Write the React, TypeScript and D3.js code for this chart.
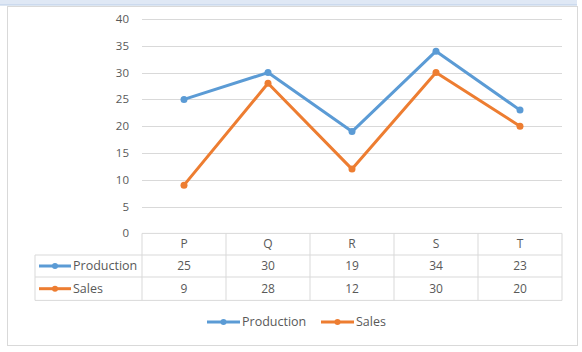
import React from "react";
import * as d3 from "d3";

const categories = ["P", "Q", "R", "S", "T"];
const production = [25, 30, 19, 34, 23];
const sales = [9, 28, 12, 30, 20];
const yTicks = [0, 5, 10, 15, 20, 25, 30, 35, 40];
const seriesNames = ["Production", "Sales"];
const seriesColors = ["#5b9bd5", "#ed7d31"];

const W = 582;
const H = 352;
const FONT = "'Open Sans', 'Noto Sans', sans-serif";
const TEXT = "#595959";
const GRID = "#d9d9d9";

export default function App() {
  const plotL = 142;
  const plotR = 562;
  const x = d3.scaleBand<string>().domain(categories).range([plotL, plotR]);
  const y = d3.scaleLinear().domain([0, 40]).range([233.4, 19]);
  const line = d3
    .line<number>()
    .x((_, i) => (x(categories[i]) as number) + x.bandwidth() / 2)
    .y((d) => y(d));
  const series = [production, sales];

  const tableTop = 233.4;
  const rowH = [21.6, 22, 23.4];
  const rowY = [tableTop, tableTop + rowH[0], tableTop + rowH[0] + rowH[1]];
  const tableBottom = rowY[2] + rowH[2];
  const legendColL = 35;

  return (
    <div style={{ position: "absolute", left: 0, top: 0 }}>
      <svg width={W} height={H} style={{ display: "block", background: "#fff" }}>
        <rect x={0} y={0} width={W} height={H} fill="#fff" />
        {/* top band */}
        <rect x={0} y={0} width={577} height={5} fill="#dfe8f5" />
        <line x1={0} x2={577} y1={5} y2={5} stroke="#b9cde6" strokeWidth={1} />
        {/* chart border */}
        <rect x={7.5} y={6.5} width={570} height={339} fill="#fff" stroke={GRID} strokeWidth={1} />
        {/* gridlines */}
        {yTicks.map((t) =>
          t === 0 ? null : (
            <line key={t} x1={plotL} x2={plotR} y1={Math.round(y(t)) + 0.5} y2={Math.round(y(t)) + 0.5} stroke={GRID} strokeWidth={1} />
          )
        )}
        {/* y tick labels */}
        {yTicks.map((t) => (
          <text key={t} x={129} y={y(t)} dy="0.35em" textAnchor="end" fontFamily={FONT} fontSize={11.5} fill={TEXT}>
            {t}
          </text>
        ))}
        {/* data table */}
        <g stroke={GRID} strokeWidth={1} fill="none">
          <line x1={plotL} x2={plotR} y1={rowY[0]} y2={rowY[0]} />
          <line x1={legendColL} x2={plotR} y1={rowY[1]} y2={rowY[1]} />
          <line x1={legendColL} x2={plotR} y1={rowY[2]} y2={rowY[2]} />
          <line x1={legendColL} x2={plotR} y1={tableBottom} y2={tableBottom} />
          <line x1={legendColL} x2={legendColL} y1={rowY[1]} y2={tableBottom} />
          {categories.map((c) => (
            <line key={c} x1={x(c) as number} x2={x(c) as number} y1={rowY[0]} y2={tableBottom} />
          ))}
          <line x1={plotR} x2={plotR} y1={rowY[0]} y2={tableBottom} />
        </g>
        {categories.map((c) => (
          <text key={c} x={(x(c) as number) + x.bandwidth() / 2} y={rowY[0] + rowH[0] / 2} dy="0.35em" textAnchor="middle" fontFamily={FONT} fontSize={12} fill={TEXT}>
            {c}
          </text>
        ))}
        {series.map((s, si) => (
          <g key={si}>
            <line x1={39} x2={71} y1={rowY[si + 1] + rowH[si + 1] / 2} y2={rowY[si + 1] + rowH[si + 1] / 2} stroke={seriesColors[si]} strokeWidth={3} />
            <circle cx={55} cy={rowY[si + 1] + rowH[si + 1] / 2} r={3} fill={seriesColors[si]} />
            <text x={73} y={rowY[si + 1] + rowH[si + 1] / 2} dy="0.35em" fontFamily={FONT} fontSize={12.5} fill={TEXT}>
              {seriesNames[si]}
            </text>
            {s.map((v, i) => (
              <text key={i} x={(x(categories[i]) as number) + x.bandwidth() / 2} y={rowY[si + 1] + rowH[si + 1] / 2} dy="0.35em" textAnchor="middle" fontFamily={FONT} fontSize={12} fill={TEXT}>
                {v}
              </text>
            ))}
          </g>
        ))}
        {/* series lines */}
        {series.map((s, si) => (
          <g key={si}>
            <path d={line(s) || ""} fill="none" stroke={seriesColors[si]} strokeWidth={3} strokeLinejoin="round" strokeLinecap="round" />
            {s.map((v, i) => (
              <circle key={i} cx={(x(categories[i]) as number) + x.bandwidth() / 2} cy={y(v)} r={3.5} fill={seriesColors[si]} />
            ))}
          </g>
        ))}
        {/* legend */}
        {seriesNames.map((n, i) => {
          const lx = i === 0 ? 207 : 321;
          const ly = 322;
          return (
            <g key={n}>
              <line x1={lx} x2={lx + 33} y1={ly} y2={ly} stroke={seriesColors[i]} strokeWidth={3} />
              <circle cx={lx + 16.5} cy={ly} r={3} fill={seriesColors[i]} />
              <text x={lx + 35} y={ly} dy="0.35em" fontFamily={FONT} fontSize={12.5} fill={TEXT}>
                {n}
              </text>
            </g>
          );
        })}
      </svg>
    </div>
  );
}
